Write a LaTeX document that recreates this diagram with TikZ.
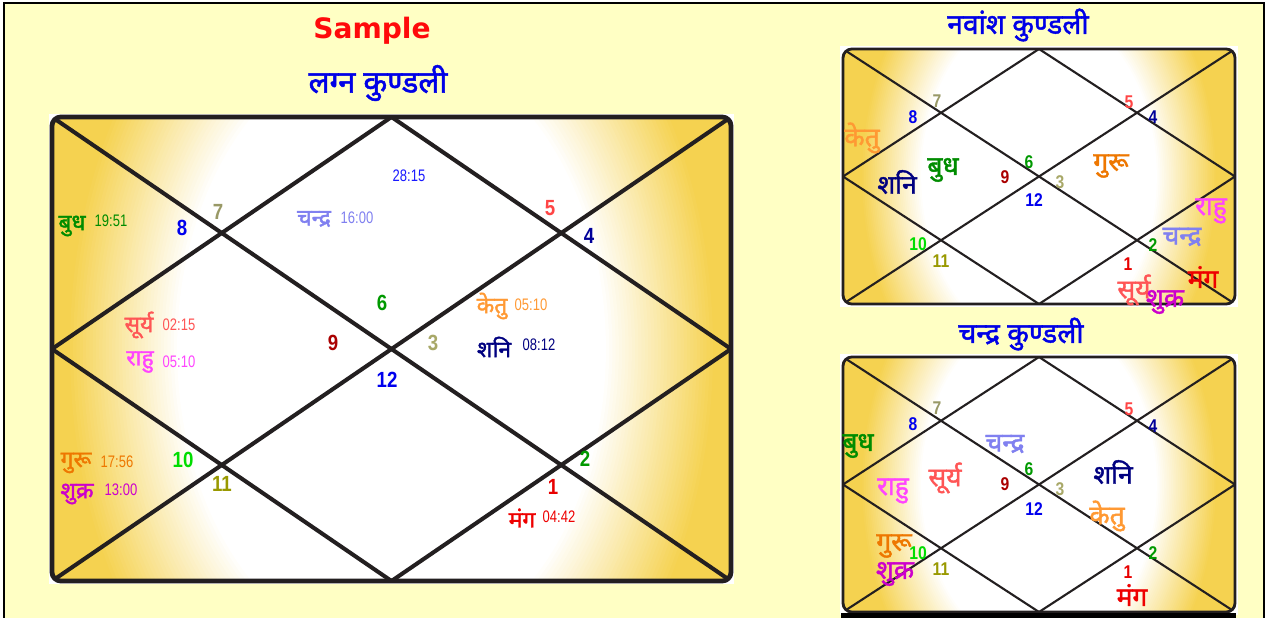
\documentclass[tikz,border=0pt]{standalone}
\usepackage{fontspec}
\newfontfamily\deva[Script=Devanagari, FakeBold=1.6]{Noto Sans}
\newfontfamily\numfont[FakeStretch=0.85]{Liberation Sans}
\newfontfamily\degfont[FakeStretch=0.78]{Liberation Sans}
\newfontfamily\samplefont{DejaVu Sans}
\definecolor{paper}{HTML}{FFFFC4}
\definecolor{gold}{HTML}{F5D250}
\definecolor{chartink}{HTML}{231F20}
\definecolor{titleblue}{HTML}{0000E6}
\definecolor{samplered}{HTML}{FF0A0A}
\definecolor{budhgreen}{HTML}{008C00}
\definecolor{chandralav}{HTML}{8080F0}
\definecolor{suryared}{HTML}{FF5555}
\definecolor{rahupink}{HTML}{FF44FF}
\definecolor{ketuorange}{HTML}{FF9933}
\definecolor{shaninavy}{HTML}{000080}
\definecolor{guruorange}{HTML}{EE7700}
\definecolor{shukramag}{HTML}{CC00CC}
\definecolor{mangred}{HTML}{EE0000}
\definecolor{lagnablue}{HTML}{1A1AFF}
\definecolor{n1}{HTML}{E80000}
\definecolor{n2}{HTML}{009900}
\definecolor{n3}{HTML}{A8A868}
\definecolor{n4}{HTML}{000099}
\definecolor{n5}{HTML}{FF4545}
\definecolor{n6}{HTML}{009900}
\definecolor{n7}{HTML}{999966}
\definecolor{n8}{HTML}{0000EE}
\definecolor{n9}{HTML}{AA0000}
\definecolor{n10}{HTML}{00DD00}
\definecolor{n11}{HTML}{999900}
\definecolor{n12}{HTML}{0000EE}
\tikzset{
  frame/.style={fill=paper, draw=black, line width=1.3pt},
  chartline/.style={draw=chartink, line cap=round, line join=round},
  sampletitle/.style={font=\samplefont\bfseries\fontsize{16}{16}\selectfont, text=samplered, inner sep=0pt},
  charttitle/.style={font=\deva\fontsize{17.6}{17.6}\selectfont, text=titleblue, inner sep=0pt},
  smalltitle/.style={font=\deva\fontsize{16}{16}\selectfont, text=titleblue, inner sep=0pt},
  planet/.style={font=\deva\fontsize{13}{13}\selectfont, inner sep=0pt},
  smallplanet/.style={font=\deva\fontsize{15}{15}\selectfont, inner sep=0pt},
  housenum/.style={font=\numfont\bfseries\fontsize{12.5}{12.5}\selectfont, inner sep=0pt},
  smallnum/.style={font=\numfont\bfseries\fontsize{10.5}{10.5}\selectfont, inner sep=0pt},
  degree/.style={font=\degfont\fontsize{9.5}{9.5}\selectfont, inner sep=0pt},
}

\begin{document}
\begin{tikzpicture}[x=0.02cm, y=-0.02cm]
\useasboundingbox (0,0) rectangle (1270,618);
\fill[white] (0,0) rectangle (1270,618);
\draw[frame] (4,3) rectangle (1264,640);
\foreach \c/\xa/\ya/\xb/\yb/\lw in {L/52/117/731/581/2.3pt, N/843/49/1235/304/1.2pt, C/843/357/1235/612/1.2pt}{
  \pgfmathsetmacro\xm{(\xa+\xb)/2}
  \pgfmathsetmacro\ym{(\ya+\yb)/2}
  \pgfmathsetmacro\hh{\yb-\ya}
  \coordinate (\c-nw) at (\xa,\ya);
  \coordinate (\c-ne) at (\xb,\ya);
  \coordinate (\c-se) at (\xb,\yb);
  \coordinate (\c-sw) at (\xa,\yb);
  \coordinate (\c-n) at (\xm,\ya);
  \coordinate (\c-e) at (\xb,\ym);
  \coordinate (\c-s) at (\xm,\yb);
  \coordinate (\c-w) at (\xa,\ym);
  \fill[white] (\xa-3,\ya-3) rectangle (\xb+3,\yb+3);
  \begin{scope}
    \clip[rounded corners=5pt] (\c-nw) rectangle (\c-se);
    \fill[gold] (\c-nw) rectangle (\c-se);
    \foreach \k in {0,...,34}{
      \pgfmathsetmacro\dd{1.0-0.01*\k}
      \pgfmathsetmacro\pp{100-100*\k/34}
      \fill[gold!\pp!white] (\xm,\ym) ellipse ({0.7*\hh*\dd} and {\hh*\dd});
    }
    \draw[chartline, line width=\lw] (\c-nw) -- (\c-se) (\c-ne) -- (\c-sw)
      (\c-n) -- (\c-e) -- (\c-s) -- (\c-w) -- cycle;
  \end{scope}
  \draw[chartline, line width=\lw+0.4pt, rounded corners=5pt] (\c-nw) rectangle (\c-se);
}
\fill[black] (841,613) rectangle (1236,620);

\node[sampletitle] (sample) at (372,31) {Sample};
\node[charttitle] (lagna-title) at (378,83) {लग्न कुण्डली};
\node[smalltitle] (nav-title) at (1018,25) {नवांश कुण्डली};
\node[smalltitle] (chandra-title) at (1021,334) {चन्द्र कुण्डली};

\node[housenum, text=n1] (L-h1) at (553,487) {1};
\node[housenum, text=n2] (L-h2) at (585,459) {2};
\node[housenum, text=n3] (L-h3) at (433,343) {3};
\node[housenum, text=n4] (L-h4) at (589,236) {4};
\node[housenum, text=n5] (L-h5) at (550,208) {5};
\node[housenum, text=n6] (L-h6) at (382,303) {6};
\node[housenum, text=n7] (L-h7) at (218,212) {7};
\node[housenum, text=n8] (L-h8) at (182,228) {8};
\node[housenum, text=n9] (L-h9) at (333,343) {9};
\node[housenum, text=n10] (L-h10) at (183,460) {10};
\node[housenum, text=n11] (L-h11) at (222,484) {11};
\node[housenum, text=n12] (L-h12) at (387,380) {12};
\node[degree, text=lagnablue] (L-lagna) at (409,176) {28:15};
\node[planet, text=budhgreen] (L-budh) at (72,226) {बुध};
\node[degree, text=budhgreen] (L-budh-deg) at (111,221) {19:51};
\node[planet, text=chandralav] (L-chandra) at (314,219) {चन्द्र};
\node[degree, text=chandralav] (L-chandra-deg) at (357,218) {16:00};
\node[planet, text=suryared] (L-surya) at (139,325) {सूर्य};
\node[degree, text=suryared] (L-surya-deg) at (179,325) {02:15};
\node[planet, text=rahupink] (L-rahu) at (140,362) {राहु};
\node[degree, text=rahupink] (L-rahu-deg) at (179,362) {05:10};
\node[planet, text=ketuorange] (L-ketu) at (492,306) {केतु};
\node[degree, text=ketuorange] (L-ketu-deg) at (531,305) {05:10};
\node[planet, text=shaninavy] (L-shani) at (494,347) {शनि};
\node[degree, text=shaninavy] (L-shani-deg) at (539,345) {08:12};
\node[planet, text=guruorange] (L-guru) at (76,463) {गुरू};
\node[degree, text=guruorange] (L-guru-deg) at (117,462) {17:56};
\node[planet, text=shukramag] (L-shukra) at (77,494) {शुक्र};
\node[degree, text=shukramag] (L-shukra-deg) at (121,490) {13:00};
\node[planet, text=mangred] (L-mang) at (522,518) {मंग};
\node[degree, text=mangred] (L-mang-deg) at (559,517) {04:42};

\node[smallnum, text=n1] (N-h1) at (1128,264) {1};
\node[smallnum, text=n2] (N-h2) at (1153,245) {2};
\node[smallnum, text=n3] (N-h3) at (1060,182) {3};
\node[smallnum, text=n4] (N-h4) at (1153,117) {4};
\node[smallnum, text=n5] (N-h5) at (1129,102) {5};
\node[smallnum, text=n6] (N-h6) at (1029,162) {6};
\node[smallnum, text=n7] (N-h7) at (937,101) {7};
\node[smallnum, text=n8] (N-h8) at (913,117) {8};
\node[smallnum, text=n9] (N-h9) at (1005,177) {9};
\node[smallnum, text=n10] (N-h10) at (918,244) {10};
\node[smallnum, text=n11] (N-h11) at (941,261) {11};
\node[smallnum, text=n12] (N-h12) at (1034,200) {12};
\node[smallplanet, text=ketuorange] (N-ketu) at (862,138) {केतु};
\node[smallplanet, text=shaninavy] (N-shani) at (897,182) {शनि};
\node[smallplanet, text=budhgreen] (N-budh) at (943,170) {बुध};
\node[smallplanet, text=guruorange] (N-guru) at (1111,166) {गुरू};
\node[smallplanet, text=rahupink] (N-rahu) at (1211,211) {राहु};
\node[smallplanet, text=chandralav] (N-chandra) at (1182,237) {चन्द्र};
\node[smallplanet, text=mangred] (N-mang) at (1203,277) {मंग};
\node[smallplanet, text=suryared] (N-surya) at (1134,290) {सूर्य};
\node[smallplanet, text=shukramag] (N-shukra) at (1165,302) {शुक्र};

\node[smallnum, text=n1] (C-h1) at (1128,572) {1};
\node[smallnum, text=n2] (C-h2) at (1153,553) {2};
\node[smallnum, text=n3] (C-h3) at (1060,489) {3};
\node[smallnum, text=n4] (C-h4) at (1153,426) {4};
\node[smallnum, text=n5] (C-h5) at (1129,409) {5};
\node[smallnum, text=n6] (C-h6) at (1029,469) {6};
\node[smallnum, text=n7] (C-h7) at (937,408) {7};
\node[smallnum, text=n8] (C-h8) at (913,424) {8};
\node[smallnum, text=n9] (C-h9) at (1005,484) {9};
\node[smallnum, text=n10] (C-h10) at (918,553) {10};
\node[smallnum, text=n11] (C-h11) at (941,569) {11};
\node[smallnum, text=n12] (C-h12) at (1034,509) {12};
\node[smallplanet, text=budhgreen] (C-budh) at (858,446) {बुध};
\node[smallplanet, text=chandralav] (C-chandra) at (1005,444) {चन्द्र};
\node[smallplanet, text=rahupink] (C-rahu) at (893,491) {राहु};
\node[smallplanet, text=suryared] (C-surya) at (945,478) {सूर्य};
\node[smallplanet, text=shaninavy] (C-shani) at (1113,472) {शनि};
\node[smallplanet, text=ketuorange] (C-ketu) at (1107,516) {केतु};
\node[smallplanet, text=guruorange] (C-guru) at (894,546) {गुरू};
\node[smallplanet, text=shukramag] (C-shukra) at (895,574) {शुक्र};
\node[smallplanet, text=mangred] (C-mang) at (1132,595) {मंग};
\end{tikzpicture}
\end{document}
